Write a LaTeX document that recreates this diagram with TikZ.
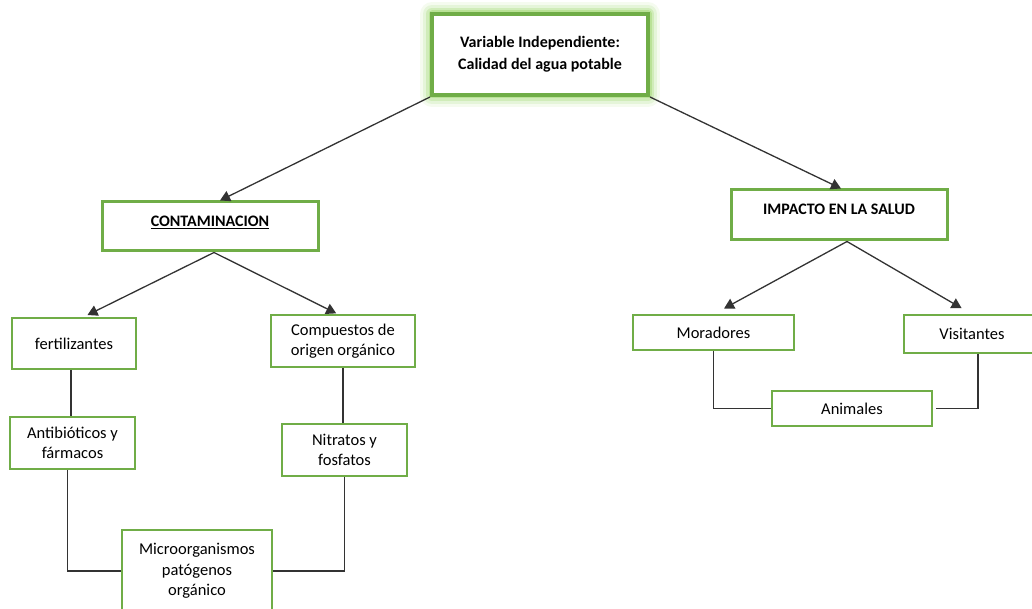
\documentclass[tikz,border=0pt]{standalone}
\usepackage{fontspec}
\setmainfont{Carlito}
\usetikzlibrary{arrows.meta}
\definecolor{boxgreen}{HTML}{70AD47}
\definecolor{glowgreen}{HTML}{A9DC7E}
\definecolor{linegray}{HTML}{333333}
\begin{document}
\begin{tikzpicture}[x=1pt,y=-1pt,
		box/.style={draw=boxgreen, line width=1.5pt, fill=white, inner sep=0pt, align=center, font=\fontsize{16.5}{20.5}\selectfont},
		headbox/.style={box, line width=3pt, text depth=11pt, font=\bfseries\fontsize{16}{20}\selectfont},
		glowbox/.style={box, line width=4pt, font=\bfseries\fontsize{16}{22}\selectfont,
			preaction={draw=glowgreen, line width=24pt, line join=round, opacity=0.12},
			preaction={draw=glowgreen, line width=18pt, line join=round, opacity=0.2},
			preaction={draw=glowgreen, line width=12pt, line join=round, opacity=0.35},
			preaction={draw=glowgreen, line width=7pt, line join=round, opacity=0.6}},
		branch/.style={draw=linegray, line width=1.3pt, -{Triangle[length=10pt,width=11pt]}},
		link/.style={draw=linegray, line width=1.3pt}
		]
		\useasboundingbox (0,0) rectangle (1032,609);
		\node [glowbox, minimum width=216, minimum height=81] (calidad) at (540,54.5) {Variable Independiente:\\Calidad del agua potable};
		\node [headbox, minimum width=216, minimum height=49] (contam) at (210,226.5) {\underline{CONTAMINACION}};
		\node [headbox, minimum width=216, minimum height=50] (impacto) at (839,215) {IMPACTO EN LA SALUD};
		\node [box, minimum width=124, minimum height=51] (fert) at (74,343.5) {fertilizantes};
		\node [box, minimum width=144, minimum height=52] (comp) at (343,341) {Compuestos de\\origen orgánico};
		\node [box, minimum width=125, minimum height=52] (anti) at (72.5,443) {Antibióticos y\\fármacos};
		\node [box, minimum width=125, minimum height=52] (nitr) at (344.5,450) {Nitratos y\\fosfatos};
		\node [box, minimum width=150, minimum height=82] (micro) at (197,571) {Microorganismos\\patógenos\\orgánico};
		\node [box, minimum width=161, minimum height=35] (morad) at (713.5,332.5) {Moradores};
		\node [box, minimum width=136, minimum height=38] (visit) at (972,334) {Visitantes};
		\node [box, minimum width=160, minimum height=35] (anim) at (852,408.5) {Animales};

		\draw [branch] (calidad.south west) -- ([xshift=10pt]contam.north);
		\draw [branch] (calidad.south east) -- ([xshift=2pt]impacto.north);
		\draw [branch, shorten >=5pt] ([xshift=4pt]contam.south) -- ([xshift=9pt]fert.north);
		\draw [branch, shorten >=2pt] ([xshift=4pt]contam.south) -- ([xshift=-5pt]comp.north);
		\draw [branch, shorten >=12pt] ([xshift=8pt]impacto.south) -- (morad.north);
		\draw [branch, shorten >=12pt] ([xshift=8pt]impacto.south) -- (visit.north);
		\draw [link] ([xshift=-3pt]fert.south) -- ([xshift=-3pt]fert.south |- anti.north);
		\draw [link] (comp.south) -- (comp.south |- nitr.north);
		\draw [link] ([xshift=-5pt]anti.south) |- (micro.west);
		\draw [link] (nitr.south) |- (micro.east);
		\draw [link] (morad.south) |- (anim.west);
		\draw [link] ([xshift=6pt]visit.south) |- ([xshift=3pt]anim.east);
	\end{tikzpicture}
\end{document}
